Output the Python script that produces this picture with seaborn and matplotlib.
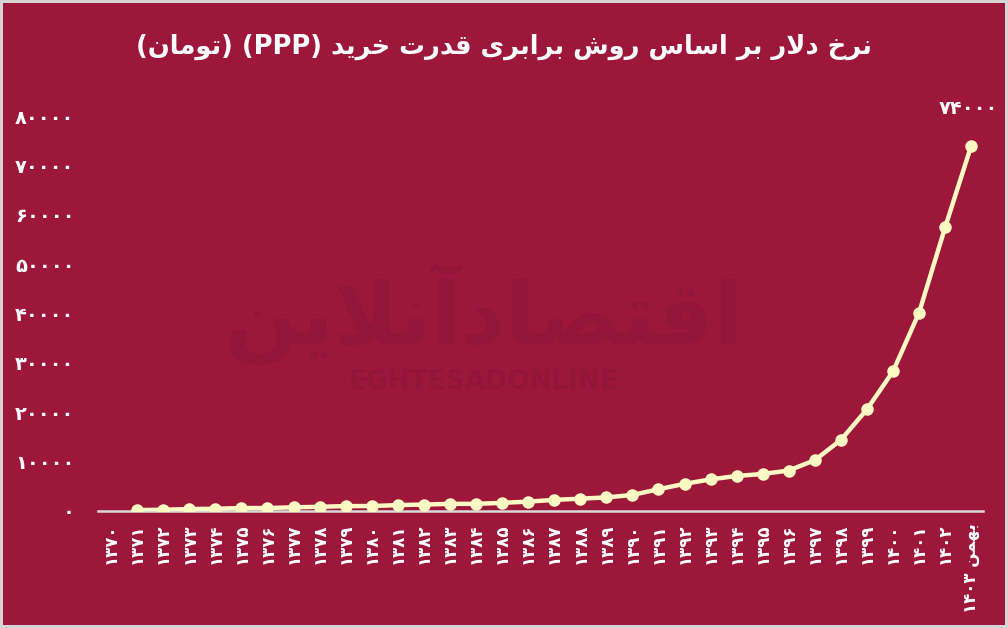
import numpy as np
import pandas as pd
import matplotlib
matplotlib.use("Agg")
import matplotlib.pyplot as plt
import seaborn as sns

# --- Data ---
years = ["1370", "1371", "1372", "1373", "1374", "1375", "1376", "1377", "1378",
         "1379", "1380", "1381", "1382", "1383", "1384", "1385", "1386", "1387",
         "1388", "1389", "1390", "1391", "1392", "1393", "1394", "1395", "1396",
         "1397", "1398", "1399", "1400", "1401", "1402", "بهمن 1403"]
rates = [np.nan, 200, 250, 400, 450, 600, 600, 750, 850, 1000, 1000, 1200, 1300,
         1450, 1450, 1650, 1900, 2250, 2500, 2750, 3250, 4400, 5500, 6400, 7100,
         7500, 8200, 10300, 14400, 20600, 28300, 40200, 57500, 74000]
y_ticks = [0, 10000, 20000, 30000, 40000, 50000, 60000, 70000, 80000]
title = "نرخ دلار بر اساس روش برابری قدرت خرید (PPP) (تومان)"
last_label = "74000"

BG = "#9D173B"
CREAM = "#FFFAC4"
MARK = "#931537"

# --- minimal Persian shaping (matplotlib has no complex text layout) ---
FORMS = {
    "ا": ("\uFE8D", "\uFE8E", None, None),
    "آ": ("\uFE81", "\uFE82", None, None),
    "ب": ("\uFE8F", "\uFE90", "\uFE91", "\uFE92"),
    "ت": ("\uFE95", "\uFE96", "\uFE97", "\uFE98"),
    "خ": ("\uFEA5", "\uFEA6", "\uFEA7", "\uFEA8"),
    "د": ("\uFEA9", "\uFEAA", None, None),
    "ر": ("\uFEAD", "\uFEAE", None, None),
    "س": ("\uFEB1", "\uFEB2", "\uFEB3", "\uFEB4"),
    "ش": ("\uFEB5", "\uFEB6", "\uFEB7", "\uFEB8"),
    "ص": ("\uFEB9", "\uFEBA", "\uFEBB", "\uFEBC"),
    "ق": ("\uFED5", "\uFED6", "\uFED7", "\uFED8"),
    "ل": ("\uFEDD", "\uFEDE", "\uFEDF", "\uFEE0"),
    "م": ("\uFEE1", "\uFEE2", "\uFEE3", "\uFEE4"),
    "ن": ("\uFEE5", "\uFEE6", "\uFEE7", "\uFEE8"),
    "ه": ("\uFEE9", "\uFEEA", "\uFEEB", "\uFEEC"),
    "و": ("\uFEED", "\uFEEE", None, None),
    "ی": ("\uFBFC", "\uFBFD", "\uFBFE", "\uFBFF"),
}
LAM_ALEF = {"ا": ("\uFEFB", "\uFEFC"), "آ": ("\uFEF5", "\uFEF6")}


def joins_next(c):
    return c in FORMS and FORMS[c][2] is not None


def shape(word):
    out = []
    i = 0
    while i < len(word):
        c = word[i]
        if c not in FORMS:
            out.append(c)
            i += 1
            continue
        prev_link = i > 0 and joins_next(word[i - 1])
        if c == "ل" and i + 1 < len(word) and word[i + 1] in LAM_ALEF:
            out.append(LAM_ALEF[word[i + 1]][1 if prev_link else 0])
            i += 2
            continue
        nxt = word[i + 1] if i + 1 < len(word) else ""
        next_link = joins_next(c) and nxt in FORMS
        iso, fin, ini, med = FORMS[c]
        if prev_link and next_link:
            out.append(med)
        elif prev_link:
            out.append(fin)
        elif next_link:
            out.append(ini)
        else:
            out.append(iso)
        i += 1
    return "".join(out)


def fa(text):
    text = text.translate(str.maketrans("0123456789", "۰۱۲۳۴۵۶۷۸۹"))
    vis = []
    for w in reversed(text.split(" ")):
        if any(ch in FORMS for ch in w):
            vis.append(shape(w)[::-1].translate(str.maketrans("()", ")(")))
        else:
            vis.append(w)
    return " ".join(vis)


df = pd.DataFrame({"label": years, "rate": rates})
df["pos"] = np.arange(len(df))

sns.set_style("white")
plt.rcParams["font.family"] = ["DejaVu Sans"]

fig = plt.figure(figsize=(10.08, 6.28), dpi=100, facecolor=BG)
fig.patch.set_edgecolor("#D4D4D4")
fig.patch.set_linewidth(3)
ax = fig.add_axes([98 / 1008, 1 - 511 / 628, 885 / 1008, 395 / 628])
ax.set_facecolor(BG)

# watermark
fig.text(0.48, 0.50, fa("اقتصادآنلاین"), color=MARK, fontsize=62,
         fontweight="bold", ha="center", va="center", zorder=0)
fig.text(0.48, 0.392, "EGHTESADONLINE", color=MARK, fontsize=19,
         fontweight="bold", ha="center", va="center", zorder=0)

sns.lineplot(data=df, x="pos", y="rate", estimator=None, sort=False,
             color=CREAM, linewidth=3.2, marker="o", markersize=9,
             markeredgecolor=CREAM, markeredgewidth=0, ax=ax, zorder=3)

ax.set_xlim(-0.5, 33.45)
ax.set_ylim(0, 80000)
ax.set_xticks(df["pos"])
ax.set_xticklabels([fa(y) for y in years], rotation=90, color="white",
                   fontsize=12, fontweight="bold", va="top", ha="center")
ax.set_yticks(y_ticks)
ax.set_yticklabels([fa(str(v)) for v in y_ticks], color="white",
                   fontsize=14, fontweight="bold")
ax.tick_params(axis="x", length=0, pad=9)
ax.tick_params(axis="y", length=0, pad=17)
ax.set_xlabel("")
ax.set_ylabel("")
for s in ["top", "right", "left"]:
    ax.spines[s].set_visible(False)
ax.spines["bottom"].set_color("#D9D9D9")
ax.spines["bottom"].set_linewidth(1.8)
ax.spines["bottom"].set_zorder(2)

ax.annotate(fa(last_label), xy=(df["pos"].iloc[-1], rates[-1]),
            xytext=(-2, 27), textcoords="offset points", ha="center",
            va="center", color="white", fontsize=14, fontweight="bold",
            annotation_clip=False)

fig.text(0.5, 0.926, fa(title), color="white", fontsize=18.5,
         fontweight="bold", ha="center", va="center")

fig.savefig("out.png", dpi=100, facecolor=BG, edgecolor=fig.get_edgecolor())
